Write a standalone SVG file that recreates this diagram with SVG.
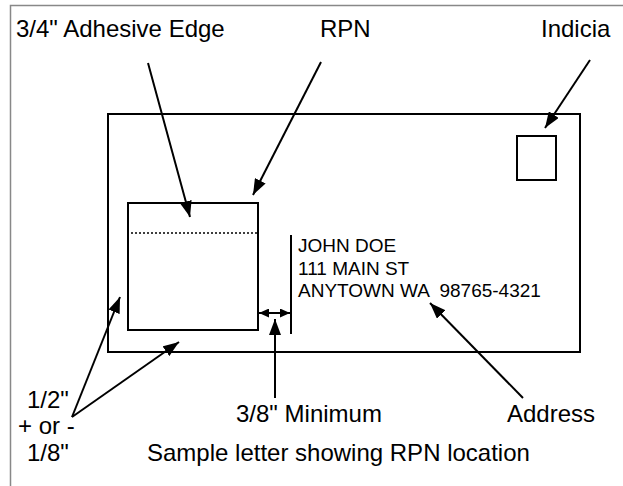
<svg xmlns="http://www.w3.org/2000/svg" width="623" height="486" viewBox="0 0 623 486">
<defs>
<marker id="ah" viewBox="0 0 16 12" refX="16" refY="6" markerWidth="16" markerHeight="12" markerUnits="userSpaceOnUse" orient="auto-start-reverse">
<path d="M0,0 L16,6 L0,12 Z" fill="#000"/>
</marker>
<marker id="ahs" viewBox="0 0 10 9" refX="10" refY="4.5" markerWidth="10" markerHeight="9" markerUnits="userSpaceOnUse" orient="auto-start-reverse">
<path d="M0,0 L10,4.5 L0,9 Z" fill="#000"/>
</marker>
</defs>
<style>
.lbl{font-family:"Liberation Sans",Arial,sans-serif;font-size:24px;fill:#000}
.addr{font-family:"Liberation Sans",Arial,sans-serif;font-size:19px;fill:#000;white-space:pre}
.ln{stroke:#000;stroke-width:2;fill:none}
.arr{stroke:#000;stroke-width:2;fill:none;marker-end:url(#ah)}
.box{stroke:#000;stroke-width:2;fill:#fff}
</style>
<rect width="623" height="486" fill="#fff"/>
<path d="M10.5,486 V5.5 H623" fill="none" stroke="#888" stroke-width="1.5"/>
<g id="envelope"><rect class="box" x="108" y="114" width="472" height="238"/></g>
<g id="indicia-box"><rect class="box" x="517" y="136" width="39" height="44"/></g>
<g id="rpn-box">
<rect class="box" x="128" y="203" width="130" height="127"/>
<line x1="131" y1="233" x2="257" y2="233" stroke="#000" stroke-width="1.5" stroke-dasharray="2,2"/>
</g>
<g id="address-block">
<line class="ln" x1="291" y1="235" x2="291" y2="334"/>
<text class="addr" x="298" y="252">JOHN DOE</text>
<text class="addr" x="298" y="275">111 MAIN ST</text>
<text class="addr" x="298" y="297">ANYTOWN WA  98765-4321</text>
</g>
<g id="labels">
<text class="lbl" x="16" y="37">3/4" Adhesive Edge</text>
<text class="lbl" x="320" y="37">RPN</text>
<text class="lbl" x="541" y="37">Indicia</text>
<text class="lbl" x="27" y="408">1/2"</text>
<text class="lbl" x="18" y="434">+ or -</text>
<text class="lbl" x="27" y="461">1/8"</text>
<text class="lbl" x="236" y="422">3/8" Minimum</text>
<text class="lbl" x="507" y="422">Address</text>
<text class="lbl" x="147" y="461">Sample letter showing RPN location</text>
</g>
<g id="connectors">
<line class="arr" x1="148" y1="63" x2="190" y2="217"/>
<line class="arr" x1="321" y1="62" x2="253" y2="195"/>
<line class="arr" x1="590" y1="60" x2="545" y2="128"/>
<line class="arr" x1="72" y1="417" x2="120" y2="297"/>
<line class="arr" x1="72" y1="417" x2="179" y2="342"/>
<line class="arr" x1="275" y1="398" x2="275" y2="319"/>
<line class="arr" x1="523" y1="398" x2="430" y2="303"/>
<line x1="259" y1="313" x2="290" y2="313" stroke="#000" stroke-width="2" marker-start="url(#ahs)" marker-end="url(#ahs)"/>
</g>
</svg>
